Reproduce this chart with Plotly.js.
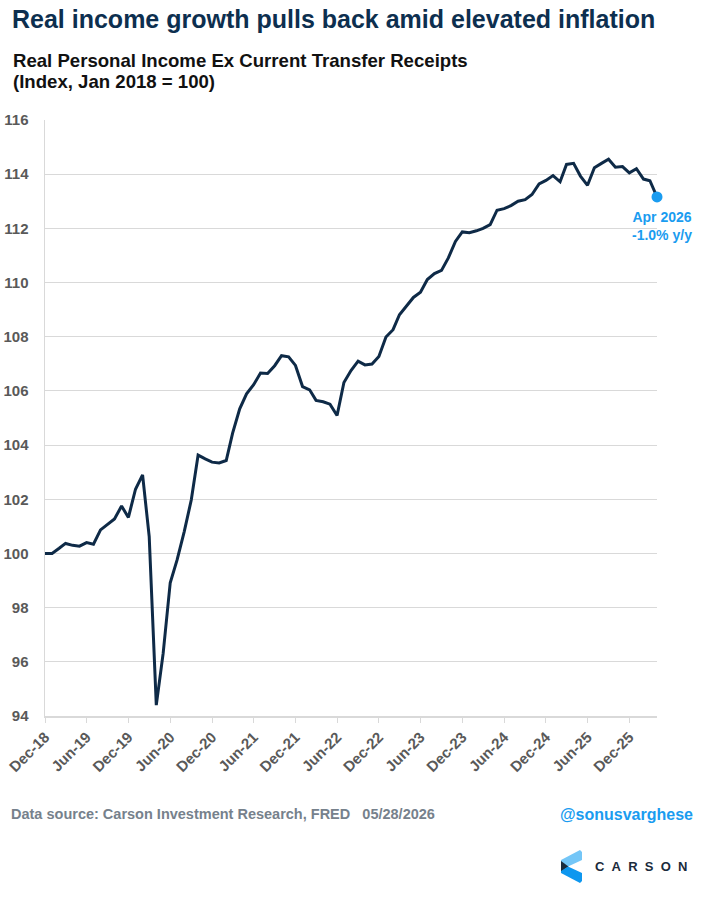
<!DOCTYPE html>
<html>
<head>
<meta charset="utf-8">
<script src="https://cdn.plot.ly/plotly-3.0.1.min.js"></script>
<style>
  html, body { margin: 0; padding: 0; background: #ffffff; }
  #chart { width: 704px; height: 904px; }
</style>
</head>
<body>
<div id="chart"></div>
<script>
// ---- data ----
const months = [
  "2018-12",
  "2019-01","2019-02","2019-03","2019-04","2019-05","2019-06","2019-07","2019-08","2019-09","2019-10","2019-11","2019-12",
  "2020-01","2020-02","2020-03","2020-04","2020-05","2020-06","2020-07","2020-08","2020-09","2020-10","2020-11","2020-12",
  "2021-01","2021-02","2021-03","2021-04","2021-05","2021-06","2021-07","2021-08","2021-09","2021-10","2021-11","2021-12",
  "2022-01","2022-02","2022-03","2022-04","2022-05","2022-06","2022-07","2022-08","2022-09","2022-10","2022-11","2022-12",
  "2023-01","2023-02","2023-03","2023-04","2023-05","2023-06","2023-07","2023-08","2023-09","2023-10","2023-11","2023-12",
  "2024-01","2024-02","2024-03","2024-04","2024-05","2024-06","2024-07","2024-08","2024-09","2024-10","2024-11","2024-12",
  "2025-01","2025-02","2025-03","2025-04","2025-05","2025-06","2025-07","2025-08","2025-09","2025-10","2025-11","2025-12",
  "2026-01","2026-02","2026-03","2026-04"
];
const incomeIndex = [
  100.00,
  100.00,100.19,100.37,100.30,100.27,100.40,100.34,100.87,101.08,101.27,101.75,101.33,
  102.37,102.90,100.62,94.40,96.31,98.92,99.76,100.80,101.97,103.63,103.49,103.37,
  103.34,103.43,104.44,105.34,105.89,106.23,106.66,106.64,106.93,107.30,107.26,106.94,
  106.16,106.04,105.65,105.60,105.51,105.09,106.31,106.75,107.10,106.96,106.99,107.27,
  107.99,108.26,108.81,109.12,109.45,109.64,110.11,110.33,110.45,110.91,111.52,111.87,
  111.84,111.91,112.00,112.14,112.67,112.73,112.84,113.00,113.06,113.25,113.64,113.77,
  113.95,113.72,114.36,114.40,113.93,113.59,114.24,114.40,114.55,114.26,114.28,114.05,
  114.20,113.82,113.76,113.16
];
const lastLabel = ["Apr 2026", "-1.0% y/y"];
const titleText = "Real income growth pulls back amid elevated inflation";
const subtitleLines = ["Real Personal Income Ex Current Transfer Receipts", "(Index, Jan 2018 = 100)"];
const sourceText = "Data source: Carson Investment Research, FRED\u00A0\u00A0\u00A005/28/2026";
const handleText = "@sonusvarghese";
const brandText = "C\u00A0\u00A0A\u00A0\u00A0R\u00A0\u00A0S\u00A0\u00A0O\u00A0\u00A0N";

// ---- layout geometry ----
const W = 704, H = 904;
const L = 45, R = 47, T = 120, B = 188;
const plotW = W - L - R, plotH = H - T - B;
const px = x => (x - L) / plotW;          // pixel x -> paper
const py = y => (H - B - y) / plotH;      // pixel y -> paper

const FONT = "Liberation Sans, Arial, Helvetica, sans-serif";
const NAVY = "#0e2a47";
const BLUE = "#1a9cf0";
const GRAY = "#595959";

const lastIdx = incomeIndex.length - 1;

const traces = [
  {
    x: months, y: incomeIndex, type: "scatter", mode: "lines",
    line: { color: NAVY, width: 3 },
    hoverinfo: "skip", showlegend: false
  },
  {
    x: [months[lastIdx]], y: [incomeIndex[lastIdx]], type: "scatter", mode: "markers",
    marker: { color: BLUE, size: 11 },
    cliponaxis: false, hoverinfo: "skip", showlegend: false
  }
];

function poly(pts) {
  return "M" + pts.map(p => px(p[0]) + "," + py(p[1])).join("L") + "Z";
}

const layout = {
  width: W, height: H,
  margin: { l: L, r: R, t: T, b: B, pad: 0 },
  paper_bgcolor: "#ffffff", plot_bgcolor: "#ffffff",
  font: { family: FONT, color: GRAY },
  showlegend: false,
  xaxis: {
    type: "date",
    range: ["2018-12-01", "2026-04-01"],
    tick0: "2018-12-01", dtick: "M6", tickformat: "%b-%y",
    tickangle: -45,
    ticks: "outside", ticklen: 5, tickcolor: "#d9d9d9", tickwidth: 1,
    showline: true, linecolor: "#d9d9d9", linewidth: 1.5,
    showgrid: false, zeroline: false,
    tickfont: { family: FONT, size: 15, color: GRAY, weight: "bold" },
    fixedrange: true
  },
  yaxis: {
    range: [94, 116], dtick: 2, tick0: 94,
    showgrid: true, gridcolor: "#d9d9d9", gridwidth: 1,
    showline: true, linecolor: "#d9d9d9", linewidth: 1.5,
    zeroline: false, ticks: "", ticklabelstandoff: 12,
    tickfont: { family: FONT, size: 15, color: GRAY, weight: "bold" },
    fixedrange: true
  },
  annotations: [
    { text: titleText, xref: "paper", yref: "paper", x: px(10), y: py(19), xanchor: "left", yanchor: "middle",
      showarrow: false, font: { family: FONT, size: 25, color: "#0d2f4f", weight: "bold" } },
    { text: subtitleLines[0], xref: "paper", yref: "paper", x: px(11), y: py(60), xanchor: "left", yanchor: "middle",
      showarrow: false, font: { family: FONT, size: 18.6, color: "#111111", weight: "bold" } },
    { text: subtitleLines[1], xref: "paper", yref: "paper", x: px(11), y: py(81.6), xanchor: "left", yanchor: "middle",
      showarrow: false, font: { family: FONT, size: 18.6, color: "#111111", weight: "bold" } },
    { text: lastLabel.join("<br>"), xref: "paper", yref: "paper", x: px(662), y: py(226), xanchor: "center", yanchor: "middle",
      align: "center", showarrow: false, font: { family: FONT, size: 14, color: BLUE, weight: "bold" } },
    { text: sourceText, xref: "paper", yref: "paper", x: px(9), y: py(814), xanchor: "left", yanchor: "middle",
      showarrow: false, font: { family: FONT, size: 14.5, color: "#76818c", weight: "bold" } },
    { text: handleText, xref: "paper", yref: "paper", x: px(695), y: py(814), xanchor: "right", yanchor: "middle",
      showarrow: false, font: { family: FONT, size: 16, color: BLUE, weight: "bold" } },
    { text: brandText, xref: "paper", yref: "paper", x: px(593), y: py(866.5), xanchor: "left", yanchor: "middle",
      showarrow: false, font: { family: FONT, size: 13, color: "#1b2b3c", weight: "bold" } }
  ],
  shapes: [
    { type: "path", xref: "paper", yref: "paper", line: { width: 0 }, fillcolor: "#74c6f7",
      path: poly([[580,850],[582,852],[582,860],[568,866.5],[561,862],[561,860]]) },
    { type: "path", xref: "paper", yref: "paper", line: { width: 0 }, fillcolor: "#1b2b3c",
      path: poly([[561,861],[568.5,866.5],[561,872]]) },
    { type: "path", xref: "paper", yref: "paper", line: { width: 0 }, fillcolor: "#0e97ef",
      path: poly([[561,873],[561,871],[568,866.5],[582,873],[582,881],[580,883]]) }
  ]
};

Plotly.newPlot("chart", traces, layout, { staticPlot: true, displayModeBar: false });
</script>
</body>
</html>
